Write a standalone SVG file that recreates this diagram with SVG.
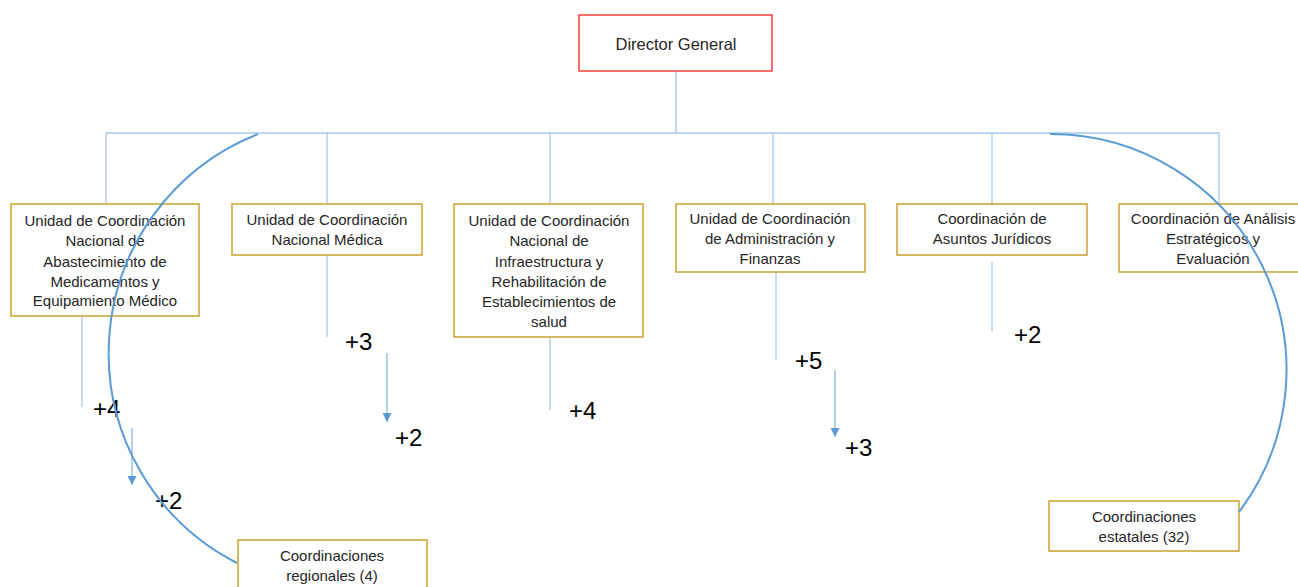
<svg xmlns="http://www.w3.org/2000/svg" width="1298" height="587" viewBox="0 0 1298 587">
<style>
.box{fill:#fff;stroke:#C9A22E;stroke-width:1.5}
.dir{fill:#fff;stroke:#FF3B3B;stroke-width:1.5}
.t{font-family:"Liberation Sans",Arial,sans-serif;font-size:15px;fill:#262626;text-anchor:middle}
.td{font-family:"Liberation Sans",Arial,sans-serif;font-size:16.5px;fill:#262626;text-anchor:middle}
.n{font-family:"Liberation Sans",Arial,sans-serif;font-size:24px;fill:#000}
.ln{stroke:#A8C8E8;stroke-width:1.3;fill:none}
.ar{stroke:#8DB6E0;stroke-width:1.3;fill:none;marker-end:url(#ah)}
.arc{stroke:#5B9BD5;stroke-width:2;fill:none}
</style>
<defs>
<marker id="ah" markerWidth="9" markerHeight="9" refX="9" refY="4.5" orient="auto" markerUnits="userSpaceOnUse" viewBox="0 0 9 9">
<path d="M0,0 L9,4.5 L0,9 Z" fill="#5B9BD5"/>
</marker>
</defs>
<g id="connectors">
<path class="ln" d="M676,71 V133 M106,133 H1219 M106,133 V204 M327,133 V204 M550,133 V204 M773,133 V204 M992,133 V204 M1219,133 V204"/>
<path class="ln" d="M82,316 V407 M327,255 V337 M550,337 V410 M776,272 V360 M992,262 V331"/>
</g>
<g id="director"><rect class="dir" x="579" y="15" width="193" height="56"/><text class="td" x="676" y="50">Director General</text></g>
<g id="ucn-abastecimiento"><rect class="box" x="11" y="204" width="188" height="112"/>
<text class="t" x="105" y="226">Unidad de Coordinación</text><text class="t" x="105" y="246">Nacional de</text><text class="t" x="105" y="267">Abastecimiento de</text><text class="t" x="105" y="287">Medicamentos y</text><text class="t" x="105" y="306">Equipamiento Médico</text></g>
<g id="ucn-medica"><rect class="box" x="232" y="204" width="190" height="51"/>
<text class="t" x="327" y="225">Unidad de Coordinación</text><text class="t" x="327" y="245">Nacional Médica</text></g>
<g id="ucn-infraestructura"><rect class="box" x="454" y="204" width="189" height="133"/>
<text class="t" x="549" y="226">Unidad de Coordinación</text><text class="t" x="549" y="246">Nacional de</text><text class="t" x="549" y="267">Infraestructura y</text><text class="t" x="549" y="287">Rehabilitación de</text><text class="t" x="549" y="307">Establecimientos de</text><text class="t" x="549" y="327">salud</text></g>
<g id="uc-administracion"><rect class="box" x="676" y="204" width="189" height="68"/>
<text class="t" x="770" y="224">Unidad de Coordinación</text><text class="t" x="770" y="244">de Administración y</text><text class="t" x="770" y="264">Finanzas</text></g>
<g id="c-juridicos"><rect class="box" x="897" y="204" width="190" height="51"/>
<text class="t" x="992" y="224">Coordinación de</text><text class="t" x="992" y="244">Asuntos Jurídicos</text></g>
<g id="c-analisis"><rect class="box" x="1119" y="204" width="190" height="68"/>
<text class="t" x="1213" y="224">Coordinación de Análisis</text><text class="t" x="1213" y="244">Estratégicos y</text><text class="t" x="1213" y="264">Evaluación</text></g>
<g id="c-regionales"><rect class="box" x="238" y="540" width="189" height="55"/>
<text class="t" x="332" y="561">Coordinaciones</text><text class="t" x="332" y="581">regionales (4)</text></g>
<g id="c-estatales"><rect class="box" x="1049" y="501" width="190" height="50"/>
<text class="t" x="1144" y="522">Coordinaciones</text><text class="t" x="1144" y="542">estatales (32)</text></g>
<g id="labels">
<text class="n" x="93" y="417">+4</text>
<text class="n" x="155" y="509">+2</text>
<text class="n" x="345" y="350">+3</text>
<text class="n" x="395" y="446">+2</text>
<text class="n" x="569" y="419">+4</text>
<text class="n" x="795" y="369">+5</text>
<text class="n" x="845" y="456">+3</text>
<text class="n" x="1014" y="343">+2</text>
</g>
<g id="connectors-overlay">
<path class="ar" d="M132,428 V485"/>
<path class="ar" d="M387,353 V422"/>
<path class="ar" d="M835,370 V437"/>
<path class="arc" d="M258,134 A235.6 235.6 0 0 0 237,563"/>
<path class="arc" d="M1050,134 A236 236 0 0 1 1239,512"/>
</g>
</svg>
